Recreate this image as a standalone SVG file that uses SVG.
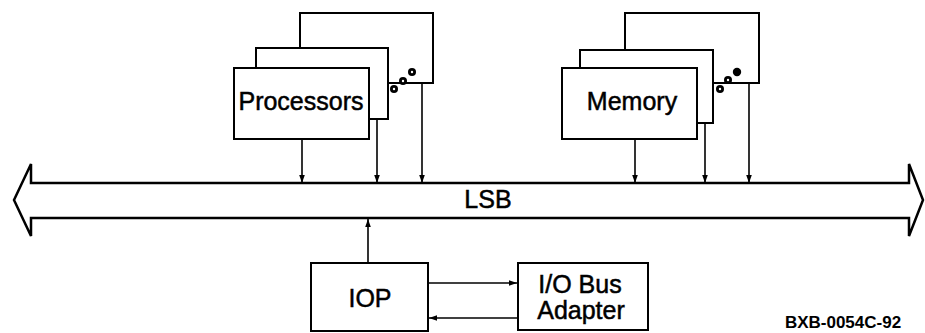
<svg xmlns="http://www.w3.org/2000/svg" width="925" height="333" viewBox="0 0 925 333">
<style>
.box{fill:#fff;stroke:#000;stroke-width:2}
.lbl{font-family:"Liberation Sans",Arial,Helvetica,sans-serif;font-size:25px;fill:#000;stroke:#000;stroke-width:0.5;text-anchor:middle}
.wire{stroke:#000;stroke-width:1.6;fill:none}
.dot{fill:#000}
.hole{fill:#fff}
</style>
<defs>
<marker id="ah" markerUnits="userSpaceOnUse" markerWidth="8" markerHeight="8" viewBox="0 0 8 8" refX="8" refY="4" orient="auto">
<path d="M0,1.2 L8,4 L0,6.8 Z" fill="#000"/>
</marker>
</defs>
<rect width="925" height="333" fill="#fff"/>
<g id="bus">
<path d="M31,183 L909,183 L909,164 L923,200 L909,236 L909,218 L31,218 L31,236 L14,200 L31,164 Z" fill="#fff" stroke="#000" stroke-width="2.5" stroke-linejoin="miter"/>
<text class="lbl" x="488" y="208">LSB</text>
</g>
<g id="processors">
<rect class="box" x="300" y="13" width="133" height="70"/>
<rect class="box" x="256" y="48" width="132" height="71"/>
<rect class="box" x="234" y="68" width="135" height="71"/>
<text class="lbl" x="301" y="110">Processors</text>
<circle class="dot" cx="394" cy="89" r="4"/><circle class="hole" cx="394" cy="89" r="1.2"/>
<circle class="dot" cx="403" cy="81" r="4"/><circle class="hole" cx="403" cy="81" r="1.2"/>
<circle class="dot" cx="412" cy="72" r="4"/><circle class="hole" cx="412" cy="72" r="1.2"/>
</g>
<g id="memory">
<rect class="box" x="625" y="13" width="134" height="70"/>
<rect class="box" x="580" y="50" width="133" height="73"/>
<rect class="box" x="562" y="68" width="135" height="71"/>
<text class="lbl" x="632" y="110">Memory</text>
<circle class="dot" cx="720" cy="89" r="4"/><circle class="hole" cx="720" cy="89" r="1.2"/>
<circle class="dot" cx="728" cy="80" r="4"/><circle class="hole" cx="728" cy="80" r="1.2"/>
<circle class="dot" cx="737" cy="72" r="4.2"/>
</g>
<g id="iop">
<rect class="box" x="311" y="263" width="117" height="68"/>
<text class="lbl" x="370" y="307">IOP</text>
</g>
<g id="adapter">
<rect class="box" x="518" y="263" width="130" height="67"/>
<text class="lbl" x="580" y="293" font-size="26">I/O Bus</text>
<text class="lbl" x="581" y="319" font-size="26">Adapter</text>
</g>
<g id="connectors">
<line class="wire" x1="302" y1="139" x2="302" y2="183" marker-end="url(#ah)"/>
<line class="wire" x1="377" y1="119" x2="377" y2="183" marker-end="url(#ah)"/>
<line class="wire" x1="422" y1="83" x2="422" y2="183" marker-end="url(#ah)"/>
<line class="wire" x1="635" y1="139" x2="635" y2="183" marker-end="url(#ah)"/>
<line class="wire" x1="705" y1="123" x2="705" y2="183" marker-end="url(#ah)"/>
<line class="wire" x1="749" y1="83" x2="749" y2="183" marker-end="url(#ah)"/>
<line class="wire" x1="368" y1="263" x2="368" y2="219" marker-end="url(#ah)"/>
<line class="wire" x1="428" y1="283" x2="517" y2="283" marker-end="url(#ah)"/>
<line class="wire" x1="518" y1="318" x2="429" y2="318" marker-end="url(#ah)"/>
</g>
<text x="843" y="328" font-family="Liberation Sans,Arial,sans-serif" font-size="17" font-weight="bold" text-anchor="middle">BXB-0054C-92</text>
</svg>
